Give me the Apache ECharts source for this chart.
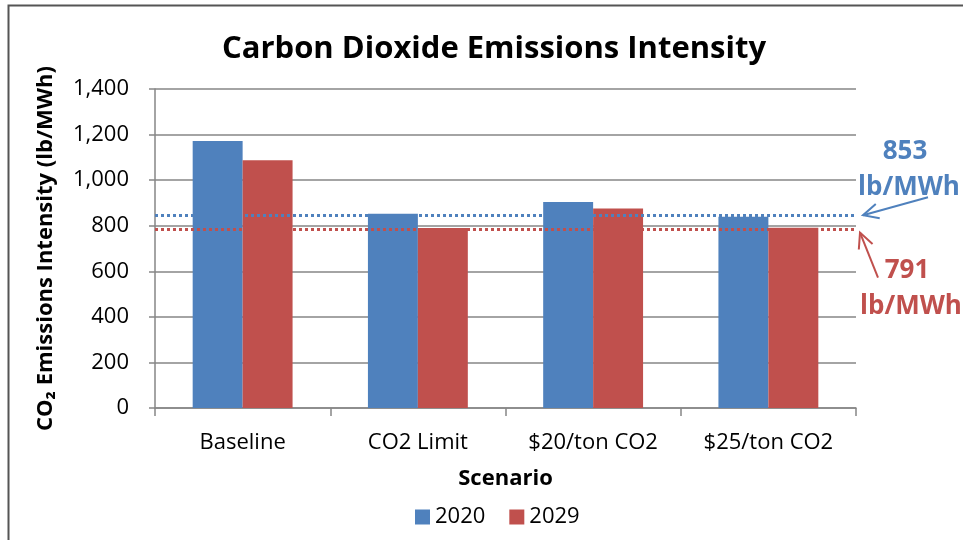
<!DOCTYPE html>
<html>
<head>
<meta charset="utf-8">
<script src="https://cdn.jsdelivr.net/npm/echarts@6/dist/echarts.min.js"></script>
<style>
  html, body { margin: 0; padding: 0; background: #fff; }
  #main { width: 963px; height: 540px; }
</style>
</head>
<body>
<div id="main"></div>
<script>
// data
var scenarios = ['Baseline', 'CO2 Limit', '$20/ton CO2', '$25/ton CO2'];
var values2020 = [1172, 852, 904, 839];
var values2029 = [1087, 790, 876, 791];
var avgLine2020 = 846;   // dotted reference lines (as drawn)
var avgLine2029 = 783;
var avgLabel2020 = ['853', 'lb/MWh'];
var avgLabel2029 = ['791', 'lb/MWh'];
var yTicks = [0, 1400, 200];  // min, max, step

var BLUE = '#4F81BD';
var RED = '#C0504D';
var GRAY = '#868686';
var FONT = '"Open Sans", Lato, sans-serif';

var chart = echarts.init(document.getElementById('main'));

var option = {
    backgroundColor: '#fff',
    animation: false,
    textStyle: { fontFamily: FONT },
    title: {
        text: 'Carbon Dioxide Emissions Intensity',
        left: 217,
        top: 29,
        textStyle: { fontSize: 31, fontWeight: 'bold', color: '#000', fontFamily: FONT }
    },
    legend: {
        bottom: 7,
        left: 410,
        itemWidth: 15,
        itemHeight: 15,
        itemGap: 24,
        icon: 'rect',
        textStyle: { fontSize: 22, color: '#000', fontFamily: FONT },
        data: ['2020', '2029']
    },
    grid: { left: 155, right: 107, top: 89, bottom: 132 },
    xAxis: {
        type: 'category',
        data: scenarios,
        name: 'Scenario',
        nameLocation: 'middle',
        nameGap: 60,
        nameTextStyle: { fontSize: 22, fontWeight: 'bold', color: '#000' },
        axisLine: { lineStyle: { color: GRAY, width: 1.5 } },
        axisTick: { show: true, interval: 0, length: 8, lineStyle: { color: GRAY, width: 1.5 } },
        axisLabel: { interval: 0, fontSize: 22, color: '#000', margin: 24 }
    },
    yAxis: {
        type: 'value',
        min: yTicks[0],
        max: yTicks[1],
        interval: yTicks[2],
        name: 'CO\u2082 Emissions Intensity (lb/MWh)',
        nameLocation: 'middle',
        nameGap: 98,
        nameTextStyle: { fontSize: 22, fontWeight: 'bold', color: '#000' },
        axisLine: { show: true, lineStyle: { color: GRAY, width: 1.5 } },
        axisTick: { show: true, length: 6, lineStyle: { color: GRAY, width: 1.5 } },
        axisLabel: {
            fontSize: 22, color: '#000', margin: 26,
            formatter: function (v) { return v.toLocaleString('en-US'); }
        },
        splitLine: { lineStyle: { color: GRAY, width: 1.5 } }
    },
    series: [
        {
            name: '2020',
            type: 'bar',
            data: values2020,
            barGap: '0%',
            barCategoryGap: '43%',
            itemStyle: { color: BLUE },
            markLine: {
                silent: true,
                symbol: 'none',
                label: { show: false },
                lineStyle: { color: BLUE, type: [3, 3], width: 3 },
                data: [{ yAxis: avgLine2020 }]
            }
        },
        {
            name: '2029',
            type: 'bar',
            data: values2029,
            itemStyle: { color: RED },
            markLine: {
                silent: true,
                symbol: 'none',
                label: { show: false },
                lineStyle: { color: RED, type: [3, 3], width: 3 },
                data: [{ yAxis: avgLine2029 }]
            }
        }
    ]
};
chart.setOption(option);

// callouts for the reference lines, anchored via the axis scale
var rightX = 963 - 107;
var yBlue = chart.convertToPixel({ yAxisIndex: 0 }, avgLine2020);
var yRed = chart.convertToPixel({ yAxisIndex: 0 }, avgLine2029);

function arrow(x1, y1, x2, y2, color) {
    var ang = Math.atan2(y1 - y2, x1 - x2);
    var len = 17, spread = 0.45;
    return [
        { type: 'line', shape: { x1: x1, y1: y1, x2: x2, y2: y2 }, style: { stroke: color, lineWidth: 2 } },
        { type: 'polyline', shape: { points: [
            [x2 + len * Math.cos(ang + spread), y2 + len * Math.sin(ang + spread)],
            [x2, y2],
            [x2 + len * Math.cos(ang - spread), y2 + len * Math.sin(ang - spread)]
        ] }, style: { stroke: color, lineWidth: 2, fill: null } }
    ];
}

function callText(x, y, txt, color) {
    return { type: 'text', x: x, y: y, style: {
        text: txt, fill: color, font: 'bold 26px ' + FONT, align: 'center', verticalAlign: 'middle'
    } };
}

var graphics = [
    { type: 'rect', shape: { x: 8.5, y: 5.5, width: 1000, height: 600 },
      style: { stroke: '#555', lineWidth: 2, fill: null }, silent: true }
]
.concat(arrow(928, yBlue - 18, rightX + 7, yBlue, BLUE))
.concat(arrow(878, yRed + 48, rightX + 4, yRed + 3, RED))
.concat([
    callText(905, yBlue - 64, avgLabel2020[0], BLUE),
    callText(909, yBlue - 28, avgLabel2020[1], BLUE),
    callText(907, yRed + 41, avgLabel2029[0], RED),
    callText(911, yRed + 77, avgLabel2029[1], RED)
]);

chart.setOption({ graphic: graphics });
</script>
</body>
</html>
